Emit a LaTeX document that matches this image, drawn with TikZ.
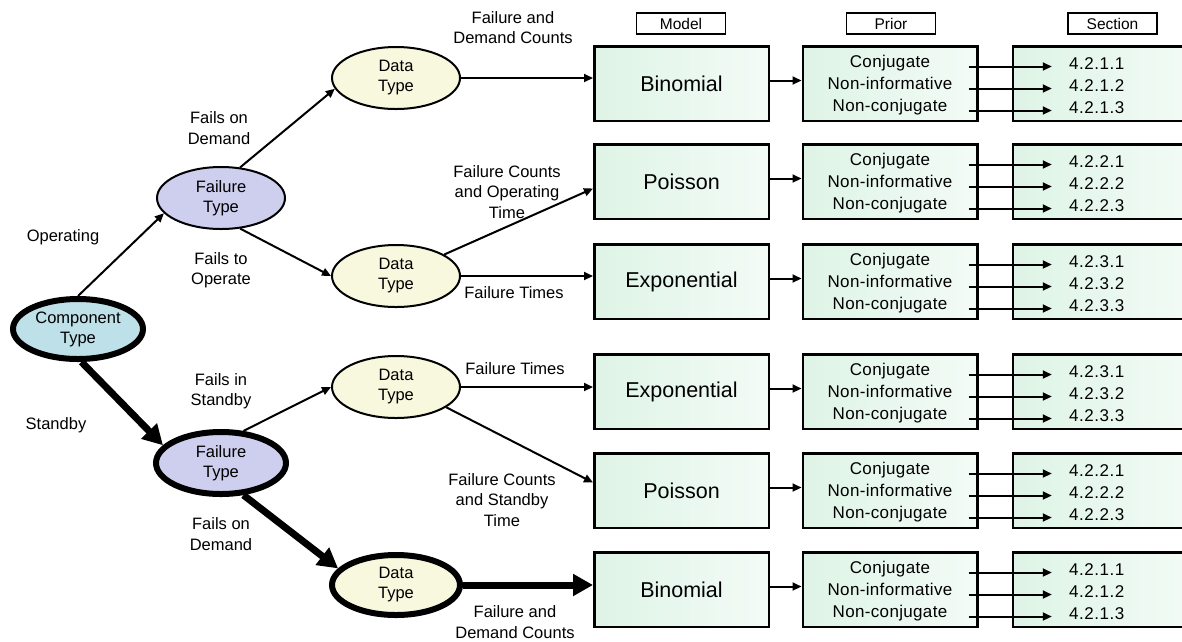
\documentclass[tikz,border=0pt]{standalone}
\usepackage{fontspec}
\setmainfont{Liberation Sans}
\usetikzlibrary{shapes.geometric,arrows.meta,calc}
\definecolor{compfill}{RGB}{190,224,232}
\definecolor{ftfill}{RGB}{206,206,238}
\definecolor{dtfill}{RGB}{248,248,222}
\definecolor{mintL}{RGB}{222,244,230}
\definecolor{mintR}{RGB}{243,251,246}
\begin{document}
\begin{tikzpicture}[x=1pt,y=-1pt,
  lbl/.style={font=\fontsize{16.5}{20.5}\selectfont, align=center, inner sep=0pt},
  oval/.style={ellipse, draw, line width=2pt, minimum width=128pt, minimum height=62pt,
    inner sep=0pt, font=\fontsize{16.5}{20}\selectfont, align=center},
  thickoval/.style={oval, line width=6pt, minimum width=128pt, minimum height=60pt},
  boxbase/.style={draw, line width=2.5pt, minimum width=174.5pt, minimum height=74.5pt,
    left color=mintL, right color=mintR, inner sep=0pt},
  modelbox/.style={boxbase, font=\fontsize{21.5}{24}\selectfont},
  sectbox/.style={boxbase, minimum width=182pt},
  priortext/.style={lbl, font=\fontsize{17}{22}\selectfont\addfontfeature{LetterSpace=2}},
  secttext/.style={lbl, align=left, anchor=west, font=\fontsize{17}{22}\selectfont\addfontfeature{LetterSpace=3}},
  hdr/.style={draw, line width=1.2pt, fill=white, minimum width=89pt, minimum height=21pt,
    inner sep=0pt, font=\fontsize{15.5}{16}\selectfont},
  arr/.style={line width=2pt, -{Triangle[length=9pt,width=8pt]}},
  bigarr/.style={line width=7pt, -{Triangle[length=20pt,width=21pt]}},
]
\useasboundingbox (0,0) rectangle (1182,641);
\fill[white] (0,0) rectangle (1182,641);
\clip (0,0) rectangle (1182,641);

% headers
\node[hdr] (hm) at (681,23.5) {Model};
\node[hdr] (hp) at (891,23.5) {Prior};
\node[hdr] (hs) at (1112.5,23.5) {Section};

% ovals
\node[thickoval, fill=compfill, minimum width=130pt] (comp) at (78,329) {Component\\Type};
\node[oval, fill=ftfill] (ft1) at (221,198) {Failure\\Type};
\node[thickoval, fill=ftfill, minimum width=130pt, minimum height=62pt] (ft2) at (221,463) {Failure\\Type};
\node[oval, fill=dtfill] (dt1) at (396,78) {Data\\Type};
\node[oval, fill=dtfill] (dt2) at (396,276) {Data\\Type};
\node[oval, fill=dtfill] (dt4) at (396,387) {Data\\Type};
\node[thickoval, fill=dtfill] (dt6) at (396,585) {Data\\Type};

% boxes
\foreach \i/\y/\m/\a in {1/83.5/Binomial/1, 2/181.5/Poisson/2, 3/281.5/Exponential/3,
                         4/391.5/Exponential/3, 5/490.5/Poisson/2, 6/589.5/Binomial/1} {
  \node[modelbox] (m\i) at (681.5,\y) {\m};
  \node[boxbase] (p\i) at (890,\y) {};
  \node[priortext] (pt\i) at (890,\y+2) {Conjugate\\Non-informative\\Non-conjugate};
  \node[sectbox] (s\i) at (1104,\y) {};
  \node[secttext] (st\i) at (1069,\y+2) {4.2.\a.1\\4.2.\a.2\\4.2.\a.3};
  \draw[arr] ([yshift=3pt]m\i.east) -- ([yshift=3pt]p\i.west);
  \foreach \d [count=\k] in {-17,5,27} {
    \coordinate (a\i\k) at ($(p\i.east)+(-10,\d)$);
    \coordinate (b\i\k) at ($(s\i.west)+(40,\d)$);
    \draw[arr] (a\i\k) -- (b\i\k);
  }
}

% tree connectors
\draw[arr] (comp.north) -- (ft1.195);
\draw[bigarr] (comp.-84) -- (ft2.163);
\draw[arr] (ft1.58) -- (dt1.190);
\draw[arr] (ft1.-58) -- (dt2.west);
\draw[arr] (dt1.east) -- (dt1.east -| m1.west);
\draw[arr] (dt2.24) -- ([yshift=-7pt]m2.west);
\draw[arr] (dt2.east) -- (dt2.east -| m3.west);
\draw[arr] (ft2.55) -- (dt4.west);
\draw[arr] (dt4.east) -- (dt4.east -| m4.west);
\draw[arr] (dt4.-22) -- ([yshift=8pt]m5.west);
\draw[bigarr] (ft2.-55) -- (dt6.164);
\draw[bigarr] (dt6.east) -- (dt6.east -| m6.west);

% labels
\node[lbl] (l1) at (513,27.5) {Failure and\\Demand Counts};
\node[lbl] (l2) at (219,128) {Fails on\\Demand};
\node[lbl] (l3) at (63,237) {Operating};
\node[lbl] (l4) at (221,270) {Fails to\\Operate};
\node[lbl] (l5) at (507,192) {Failure Counts\\and Operating\\Time};
\node[lbl] (l6) at (514,293) {Failure Times};
\node[lbl] (l7) at (221,391) {Fails in\\Standby};
\node[lbl] (l8) at (56,425) {Standby};
\node[lbl] (l9) at (515,369) {Failure Times};
\node[lbl] (l10) at (502,500) {Failure Counts\\and Standby\\Time};
\node[lbl] (l11) at (221,534) {Fails on\\Demand};
\node[lbl] (l12) at (515,622) {Failure and\\Demand Counts};
\end{tikzpicture}
\end{document}
